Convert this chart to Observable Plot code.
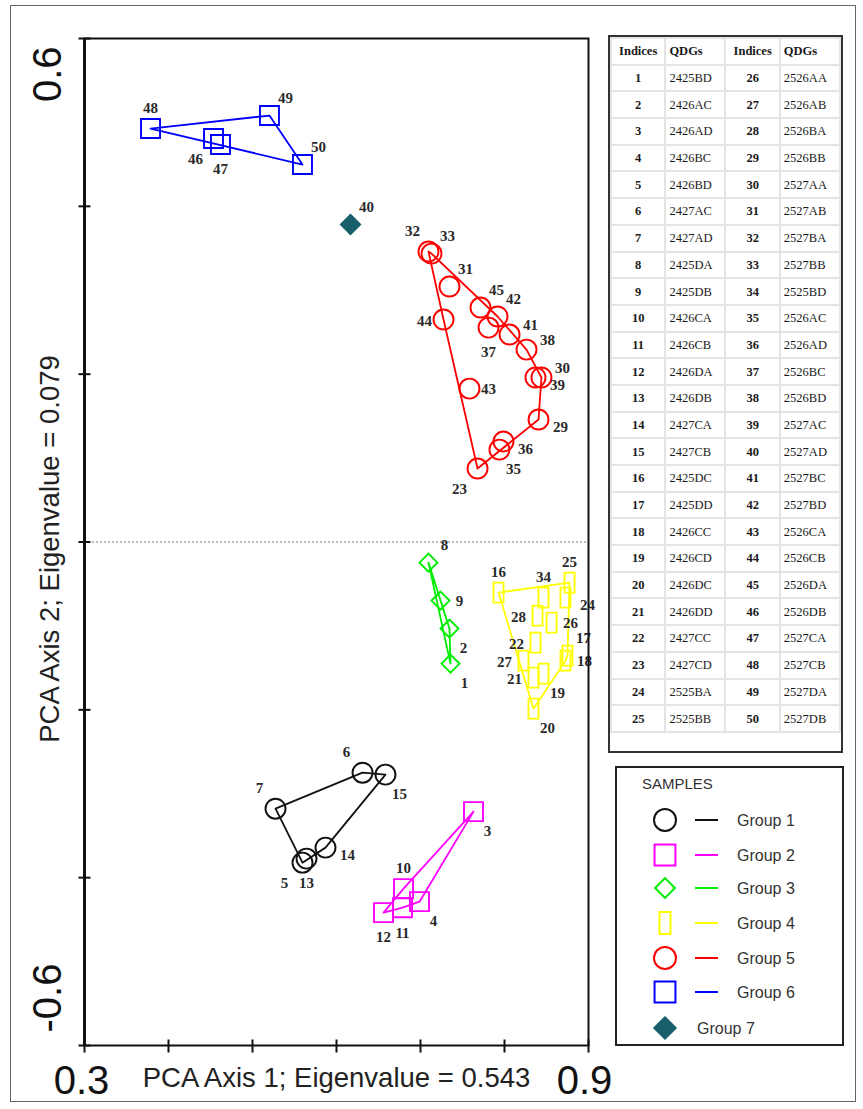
<!DOCTYPE html>
<html><head><meta charset="utf-8">
<script src="https://cdn.jsdelivr.net/npm/d3@7"></script>
<script src="https://cdn.jsdelivr.net/npm/@observablehq/plot@0.6"></script>
<style>
html,body{margin:0;padding:0;background:#fff}
body{width:863px;height:1109px;position:relative;overflow:hidden;font-family:"Liberation Sans",Arial,sans-serif}
#outer{position:absolute;left:10px;top:5px;width:846px;height:1097px;border:1px solid #666;box-sizing:border-box}
#chart{position:absolute;left:0;top:0}
#tbl{position:absolute;left:608px;top:35px;width:235px;height:718px;border:2px solid #333;box-sizing:border-box;background:#fff}
#tbl table{border-collapse:collapse;width:100%;font-family:"Liberation Serif","Times New Roman",serif;font-size:12.5px;color:#1a1a1a}
#tbl td,#tbl th{border:2px solid #e4e4e4;height:24.7px;padding:0 3px;line-height:12px}
#tbl th{font-weight:bold;text-align:left}
#tbl th.c,#tbl td.c{text-align:center;font-weight:bold}
#legend{position:absolute;left:615px;top:766px;width:229px;height:280px;border:2px solid #222;box-sizing:border-box;background:#fff}
</style></head>
<body>
<div id="outer"></div>
<div id="chart"></div>
<div id="tbl"></div>
<div id="legend"></div>
<script>
// ---------------- data ----------------
const indices = d3.range(1, 51);
const axis1 = [0.7357,0.7345,0.7631,0.6988,0.5595,0.6310,0.5274,0.7095,0.7238,0.6798,
               0.6786,0.6560,0.5643,0.5869,0.6583,0.7929,0.8750,0.8726,0.8464,0.8345,
               0.8345,0.8369,0.7679,0.8726,0.8774,0.8560,0.8226,0.8393,0.8405,0.8440,
               0.7345,0.7095,0.7131,0.8464,0.7940,0.7988,0.7810,0.8262,0.8369,0.6167,
               0.8060,0.7917,0.7583,0.7274,0.7714,0.4536,0.4619,0.3786,0.5202,0.5595];
const axis2 = [-0.1449,-0.1032,-0.3213,-0.4286,-0.3821,-0.2749,-0.3178,-0.0246,-0.0698,-0.4131,
               -0.4358,-0.4417,-0.3773,-0.3642,-0.2772,-0.0603,-0.1354,-0.1414,-0.1569,-0.1986,
               -0.1616,-0.1199,0.0875,-0.0663,-0.0484,-0.0961,-0.1414,-0.0877,0.1459,0.1960,
               0.3044,0.3461,0.3437,-0.0663,0.1101,0.1197,0.2555,0.2293,0.1960,0.3783,
               0.2472,0.2687,0.1828,0.2651,0.2794,0.4808,0.4737,0.4927,0.5082,0.4498];
const groupOf = [3,3,2,2,1,1,1,3,3,2,
                 2,2,1,1,1,4,4,4,4,4,
                 4,4,5,4,4,4,4,4,5,5,
                 5,5,5,4,5,5,5,5,5,7,
                 5,5,5,5,5,6,6,6,6,6];
const labelSide = ["se","se","se","se","sw","nw","nw","ne","e","n",
                   "s","s","s","ese","se","n","ne","e","se","se",
                   "w","w","sw","ese","n","e","w","w","ese","ene",
                   "ne","nw","ne","n","se","ese","s","ene","ese","ne",
                   "ene","ne","e","w","ne","sw","s","n","ne","ne"];
const qdgs = ["2425BD","2426AC","2426AD","2426BC","2426BD","2427AC","2427AD","2425DA","2425DB","2426CA",
              "2426CB","2426DA","2426DB","2427CA","2427CB","2425DC","2425DD","2426CC","2426CD","2426DC",
              "2426DD","2427CC","2427CD","2525BA","2525BB","2526AA","2526AB","2526BA","2526BB","2527AA",
              "2527AB","2527BA","2527BB","2525BD","2526AC","2526AD","2526BC","2526BD","2527AC","2527AD",
              "2527BC","2527BD","2526CA","2526CB","2526DA","2526DB","2527CA","2527CB","2527DA","2527DB"];
const groupNames = ["Group 1","Group 2","Group 3","Group 4","Group 5","Group 6","Group 7"];
const groupColors = ["#111111","#ff00ff","#00ee00","#ffff00","#ff0000","#0000ff","#17606b"];
const xTicks = [0.3,0.4,0.5,0.6,0.7,0.8,0.9];
const yTicks = [-0.6,-0.4,-0.2,0,0.2,0.4,0.6];
const xTickLabels = ["0.3","0.9"];
const yTickLabels = ["0.6","-0.6"];
const xAxisLabel = "PCA Axis 1; Eigenvalue = 0.543";
const yAxisLabel = "PCA Axis 2; Eigenvalue = 0.079";
const legendTitle = "SAMPLES";
const tableHeaders = ["Indices","QDGs","Indices","QDGs"];

// ---------------- symbols ----------------
const circleSym = {draw(c){c.moveTo(10,0);c.arc(0,0,10,0,2*Math.PI);c.closePath();}};
const squareSym = {draw(c){c.rect(-9.5,-9.5,19,19);}};
const diamondSym = {draw(c){c.moveTo(0,-9);c.lineTo(9,0);c.lineTo(0,9);c.lineTo(-9,0);c.closePath();}};
const barSym = {draw(c){c.rect(-5,-10,10,20);}};
const solidDiamondSym = {draw(c){c.moveTo(0,-11);c.lineTo(11,0);c.lineTo(0,11);c.lineTo(-11,0);c.closePath();}};
const groupSymbols = [circleSym,squareSym,diamondSym,barSym,circleSym,squareSym,solidDiamondSym];
const hTick = {draw(c){c.moveTo(-6,0);c.lineTo(6,0);}};
const vTick = {draw(c){c.moveTo(0,-6);c.lineTo(0,7);}};

const pts = indices.map((id,i)=>({id, x:axis1[i], y:axis2[i], g:groupOf[i], side:labelSide[i]}));

const sideOffsets = {n:[0,-20], ne:[16,-17], ene:[21,-9], e:[19,1], ese:[22,8], se:[14,20], s:[0,25], sw:[-18,21], w:[-19,2], nw:[-16,-20]};

const marks = [];
marks.push(Plot.ruleY([0], {stroke:"#777", strokeWidth:1, strokeDasharray:"2,2"}));
for (let g = 1; g <= 6; g++) {
  marks.push(Plot.hull(pts.filter(d=>d.g===g), {x:"x", y:"y", stroke:groupColors[g-1], strokeWidth:1.8, fill:"none", strokeLinejoin:"round"}));
}
for (let g = 1; g <= 7; g++) {
  const filled = g === 7;
  marks.push(Plot.dot(pts.filter(d=>d.g===g), {x:"x", y:"y", r:6, symbol:groupSymbols[g-1],
    stroke: filled ? "none" : groupColors[g-1], fill: filled ? groupColors[g-1] : "none", strokeWidth:1.9}));
}
for (const [side,[dx,dy]] of Object.entries(sideOffsets)) {
  marks.push(Plot.text(pts.filter(d=>d.side===side), {x:"x", y:"y", text:d=>String(d.id), dx, dy,
    fontFamily:"Liberation Serif", fontWeight:"bold", fontSize:15, fill:"#2a2a2a"}));
}
marks.push(Plot.frame({stroke:"#111", strokeWidth:2}));
marks.push(Plot.ruleX([0.3], {stroke:"#111", strokeWidth:3}));
marks.push(Plot.dot(yTicks, {x:()=>0.3, y:d=>d, symbol:hTick, r:5, stroke:"#111", strokeWidth:2}));
marks.push(Plot.dot(xTicks, {x:d=>d, y:()=>-0.6, symbol:vTick, r:5, stroke:"#111", strokeWidth:2}));
marks.push(Plot.text([yTickLabels[0]], {x:()=>0.3, y:d=>+d, text:d=>d, rotate:-90, textAnchor:"end", dx:-36, dy:8, fontSize:40, fill:"#111"}));
marks.push(Plot.text([yTickLabels[1]], {x:()=>0.3, y:d=>+d, text:d=>d, rotate:-90, textAnchor:"start", dx:-36, dy:-13, fontSize:40, fill:"#111"}));
marks.push(Plot.text([xTickLabels[0]], {x:d=>+d, y:()=>-0.6, text:d=>d, dx:-3, dy:36, fontSize:40, fill:"#111"}));
marks.push(Plot.text([xTickLabels[1]], {x:d=>+d, y:()=>-0.6, text:d=>d, dx:-4, dy:36, fontSize:40, fill:"#111"}));
marks.push(Plot.text([xAxisLabel], {frameAnchor:"bottom", lineAnchor:"middle", textAnchor:"middle", text:d=>d, dy:33, fontSize:27.5, fill:"#222"}));
marks.push(Plot.text([yAxisLabel], {frameAnchor:"left", lineAnchor:"middle", textAnchor:"middle", text:d=>d, rotate:-90, dx:-34, dy:7, fontSize:27.5, fill:"#222"}));

const chart = Plot.plot({
  width:600, height:1109,
  marginLeft:84, marginRight:12, marginTop:38, marginBottom:64,
  x:{domain:[0.3,0.9], axis:null},
  y:{domain:[-0.6,0.6], axis:null},
  style:{background:"transparent", overflow:"visible", fontFamily:"Liberation Sans, Arial, sans-serif"},
  marks
});
document.getElementById("chart").appendChild(chart);

// ---------------- table ----------------
const half = 25;
let html = "<table><tr><th class='c'>"+tableHeaders[0]+"</th><th>"+tableHeaders[1]+"</th><th class='c'>"+tableHeaders[2]+"</th><th>"+tableHeaders[3]+"</th></tr>";
for (let i = 0; i < half; i++) {
  html += "<tr><td class='c'>"+indices[i]+"</td><td>"+qdgs[i]+"</td><td class='c'>"+indices[i+half]+"</td><td>"+qdgs[i+half]+"</td></tr>";
}
html += "</table>";
document.getElementById("tbl").innerHTML = html;

// ---------------- legend ----------------
const lg = d3.select("#legend").append("svg").attr("width",225).attr("height",276)
  .style("font-family","Liberation Sans, Arial, sans-serif");
lg.append("text").attr("x",25).attr("y",16).attr("dy","0.35em").attr("font-size",15).attr("fill","#333").text(legendTitle);
const rowY = [52,87,120,155,190,224,260];
groupNames.forEach((name,i)=>{
  const y = rowY[i];
  const p = d3.path(); groupSymbols[i].draw(p);
  const filled = i === 6;
  lg.append("path").attr("d",p.toString()).attr("transform",`translate(48,${y}) scale(1.1)`)
    .attr("fill", filled ? groupColors[i] : "none").attr("stroke", filled ? "none" : groupColors[i]).attr("stroke-width",1.8);
  if (!filled) lg.append("line").attr("x1",78).attr("x2",101).attr("y1",y).attr("y2",y).attr("stroke",groupColors[i]).attr("stroke-width",2);
  lg.append("text").attr("x", filled ? 80 : 120).attr("y",y).attr("dy","0.35em").attr("font-size",16).attr("fill","#333").text(name);
});
</script>
</body></html>
